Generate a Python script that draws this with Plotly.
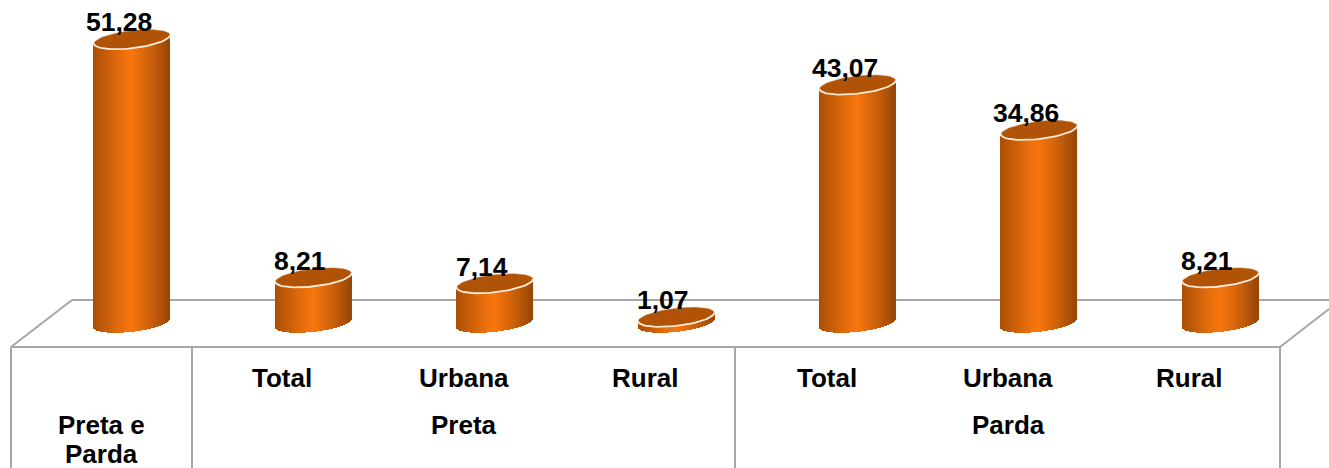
import math
import plotly.graph_objects as go

W, H = 1329, 468

# Data
positions = [0, 1, 2, 3, 4, 5, 6]
values = [51.28, 8.21, 7.14, 1.07, 43.07, 34.86, 8.21]
value_labels = ["51,28", "8,21", "7,14", "1,07", "43,07", "34,86", "8,21"]
sub_positions = [1, 2, 3, 4, 5, 6]
sub_labels = ["Total", "Urbana", "Rural", "Total", "Urbana", "Rural"]
group_positions = [0, 0, 2, 5]
group_labels = ["Preta e", "Parda", "Preta", "Parda"]
group_rows = [425, 453.5, 425, 425]

# Scales (pixels per unit)
PX_X = 181.4
PX_Y = 5.53
X0_PX = 132.0
Y0_PX = 323.0
x_range = [(0 - X0_PX) / PX_X, (W - X0_PX) / PX_X]
y_range = [(Y0_PX - H) / PX_Y, Y0_PX / PX_Y]

# Cylinder look
RX, RY, TILT = 38.0, 8.8, 4.2
N = 76
DARK_L = (168, 78, 6)
DARK_R = (150, 70, 6)
BRIGHT = (246, 117, 14)
CAP = "#B05306"
RIM = "#FFEBD9"
LINE = "#A6A6A6"
FONT = "Liberation Sans"


def slice_color(u):
    c0 = DARK_L if u < 0 else DARK_R
    f = abs(u) ** 1.2
    return "rgb(%d,%d,%d)" % tuple(round(BRIGHT[i] + (c0[i] - BRIGHT[i]) * f) for i in range(3))


def front_edge(u):
    return (TILT * u - RY * math.sqrt(max(0.0, 1 - u * u))) / PX_Y


bx, by, bbase, bcol = [], [], [], []
slice_w = (2 * RX / N) / PX_X
for p, v in zip(positions, values):
    for i in range(N):
        u = (i + 0.5) / N * 2 - 1
        e = front_edge(u)
        bx.append(p + u * RX / PX_X)
        bbase.append(e)
        by.append(v)
        bcol.append(slice_color(u))

fig = go.Figure()
fig.add_trace(go.Bar(
    x=bx, y=by, base=bbase, width=slice_w * 1.02,
    marker=dict(color=bcol, line=dict(width=0)), hoverinfo="skip", showlegend=False,
))

cx, cy, rx, ry = [], [], [], []
for p, v in zip(positions, values):
    for k in range(0, 73):
        t = 2 * math.pi * k / 72
        cx.append(p + RX * math.cos(t) / PX_X)
        cy.append(v + (RY * math.sin(t) + TILT * math.cos(t)) / PX_Y)
    cx.append(None)
    cy.append(None)
    for k in range(0, 37):
        t = math.pi + math.pi * k / 36
        rx.append(p + RX * math.cos(t) / PX_X)
        ry.append(v + (RY * math.sin(t) + TILT * math.cos(t)) / PX_Y)
    rx.append(None)
    ry.append(None)

fig.add_trace(go.Scatter(x=cx, y=cy, mode="lines", fill="toself", fillcolor=CAP,
                         line=dict(width=0.5, color="#C9742E"), hoverinfo="skip", showlegend=False))
fig.add_trace(go.Scatter(x=rx, y=ry, mode="lines", line=dict(width=1.8, color=RIM),
                         hoverinfo="skip", showlegend=False))

# Table / floor frame (pixel layout of the category table)
frame = [
    (72, 300, W, 300), (72, 300, 11, 347), (11, 347, 1280, 347),
    (1280, 347, W, 309), (11, 347, 11, H), (192, 347, 192, H),
    (735, 347, 735, H), (1280, 347, 1280, H),
]
shapes = [dict(type="line", xref="paper", yref="paper", layer="below",
               x0=a / W, x1=c / W, y0=1 - b / H, y1=1 - d / H,
               line=dict(color=LINE, width=2)) for a, b, c, d in frame]

ann = []
for p, v, t in zip(positions, values, value_labels):
    ann.append(dict(x=p, y=v, xref="x", yref="y", text=f"<b>{t}</b>", showarrow=False,
                    xanchor="center", yanchor="middle", xshift=-13, yshift=17,
                    font=dict(family=FONT, size=26.5, color="#000000")))
for p, t in zip(sub_positions, sub_labels):
    ann.append(dict(x=p, y=1 - 378 / H, xref="x", yref="paper", text=f"<b>{t}</b>", showarrow=False,
                    xanchor="center", yanchor="middle", xshift=-31,
                    font=dict(family=FONT, size=26, color="#000000")))
for p, t, r in zip(group_positions, group_labels, group_rows):
    ann.append(dict(x=p, y=1 - r / H, xref="x", yref="paper", text=f"<b>{t}</b>",
                    showarrow=False, xanchor="center", yanchor="middle",
                    xshift=-31, font=dict(family=FONT, size=26, color="#000000")))

fig.update_layout(
    width=W, height=H, margin=dict(l=0, r=0, t=0, b=0),
    paper_bgcolor="white", plot_bgcolor="rgba(0,0,0,0)",
    showlegend=False, shapes=shapes, annotations=ann, bargap=0,
    xaxis=dict(range=x_range, visible=False, fixedrange=True),
    yaxis=dict(range=y_range, visible=False, fixedrange=True),
)
fig.write_html("out.html", config={"displayModeBar": False},
               post_script="document.body.style.margin='0';document.documentElement.style.overflow='hidden';")
